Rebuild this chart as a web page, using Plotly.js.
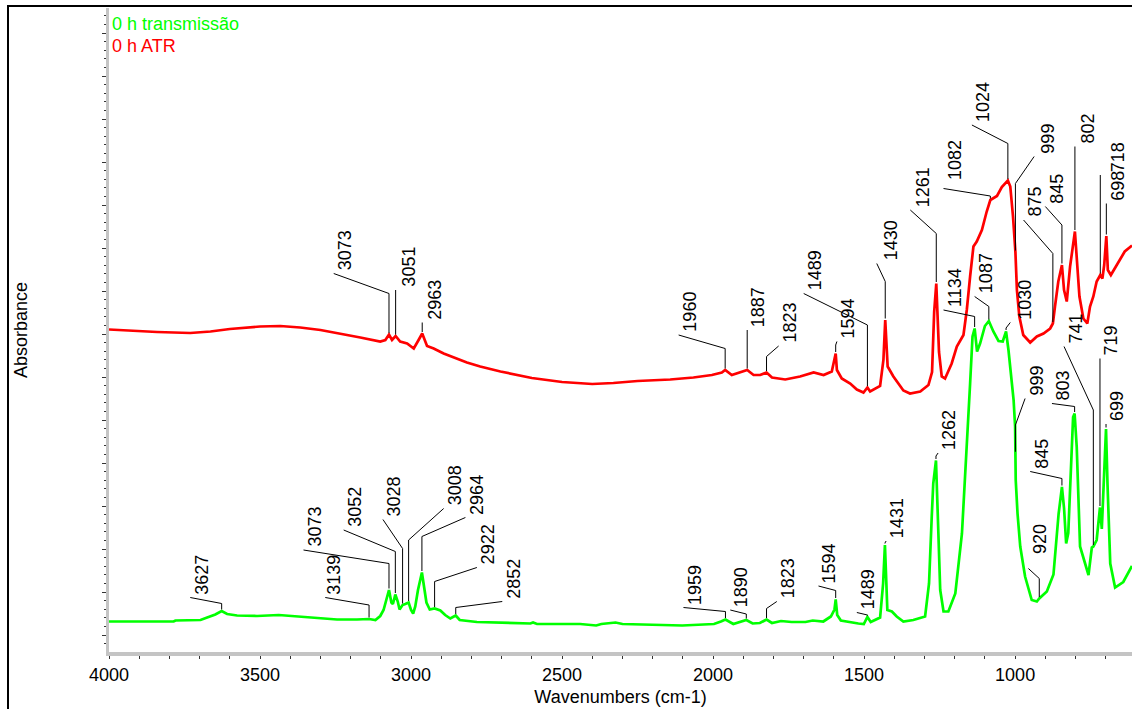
<!DOCTYPE html>
<html>
<head>
<meta charset="utf-8">
<script src="https://cdn.plot.ly/plotly-3.0.1.min.js"></script>
<style>
html,body{margin:0;padding:0;background:#fff;}
#chart{position:absolute;left:0;top:0;width:1132px;height:709px;}
#frame{position:absolute;left:7px;top:5px;width:1200px;height:800px;border-left:2px solid #000;border-top:2px solid #000;pointer-events:none;}
</style>
</head>
<body>
<div id="chart"></div>
<div id="frame"></div>
<script>
// ---------------- DATA ----------------
const seriesNames = ['0 h transmissão', '0 h ATR'];

// "0 h transmissão" spectrum (wavenumber cm-1, absorbance a.u.)
const transWavenumbers = [
  4000,3786,3780,3714,3697,3675,3648,3627,3609,3576,
  3510,3438,3366,3311,3245,3179,3139,3118,3102,3091,
  3082,3073,3065,3060,3052,3044,3038,3028,3019,3008,
  3000,2993,2986,2977,2964,2958,2949,2938,2922,2903,
  2887,2870,2852,2839,2782,2605,2596,2583,2440,2387,
  2370,2323,2300,2102,2044,1997,1974,1959,1933,1909,
  1890,1869,1845,1823,1805,1775,1740,1694,1670,1635,
  1610,1598,1594,1589,1577,1519,1501,1489,1478,1447,
  1437,1431,1427,1423,1408,1392,1370,1337,1298,1285,
  1276,1271,1262,1258,1254,1248,1237,1221,1198,1176,
  1160,1149,1141,1134,1126,1116,1100,1087,1072,1055,
  1041,1030,1022,1016,1005,1000,998,992,983,967,
  945,928,920,895,873,856,845,838,831,824,
  816,808,803,796,785,768,757,746,741,730,
  719,713,705,699,694,685,669,642,613
];
const transAbsorbance = [
  0.061,0.061,0.063,0.063,0.064,0.069,0.075,0.082,0.076,0.073,
  0.072,0.074,0.071,0.069,0.065,0.065,0.066,0.064,0.072,0.084,
  0.107,0.124,0.099,0.096,0.115,0.101,0.085,0.094,0.096,0.099,
  0.084,0.077,0.091,0.124,0.159,0.134,0.099,0.085,0.087,0.083,
  0.074,0.067,0.073,0.064,0.060,0.057,0.059,0.056,0.056,0.053,
  0.056,0.059,0.056,0.053,0.054,0.056,0.061,0.065,0.056,0.060,
  0.064,0.057,0.058,0.065,0.058,0.062,0.060,0.060,0.063,0.061,
  0.071,0.085,0.105,0.074,0.063,0.057,0.056,0.070,0.060,0.069,
  0.137,0.214,0.137,0.084,0.081,0.071,0.061,0.064,0.071,0.137,
  0.271,0.337,0.383,0.324,0.237,0.124,0.081,0.081,0.117,0.237,
  0.404,0.537,0.631,0.647,0.601,0.617,0.652,0.662,0.641,0.622,
  0.621,0.641,0.604,0.571,0.504,0.451,0.344,0.277,0.211,0.151,
  0.104,0.101,0.107,0.121,0.155,0.276,0.330,0.288,0.217,0.238,
  0.371,0.470,0.477,0.410,0.211,0.177,0.154,0.209,0.211,0.224,
  0.289,0.246,0.360,0.446,0.334,0.177,0.129,0.140,0.172
];

// "0 h ATR" spectrum
const atrWavenumbers = [
  4000,3951,3841,3731,3664,3600,3500,3433,3367,3300,
  3234,3168,3102,3085,3073,3063,3051,3036,3013,2991,
  2975,2963,2947,2925,2892,2859,2815,2771,2704,2600,
  2500,2400,2330,2250,2208,2142,2065,2004,1971,1960,
  1938,1916,1887,1866,1844,1823,1805,1761,1712,1667,
  1634,1607,1594,1590,1574,1546,1524,1502,1489,1480,
  1447,1436,1430,1422,1403,1370,1348,1314,1287,1275,
  1268,1261,1257,1252,1243,1232,1210,1193,1171,1160,
  1149,1138,1127,1110,1094,1082,1060,1044,1024,1016,
  1007,1003,999,994,986,973,950,928,906,884,
  875,868,857,845,838,829,818,802,796,787,
  774,761,752,741,730,718,711,705,698,693,
  683,664,637,613
];
const atrAbsorbance = [
  0.645,0.643,0.640,0.638,0.641,0.646,0.651,0.652,0.649,0.644,
  0.637,0.629,0.621,0.624,0.635,0.624,0.632,0.621,0.617,0.607,
  0.624,0.637,0.612,0.607,0.597,0.589,0.579,0.571,0.561,0.548,
  0.540,0.536,0.538,0.542,0.543,0.545,0.549,0.554,0.559,0.564,
  0.554,0.559,0.564,0.554,0.554,0.559,0.549,0.545,0.551,0.559,
  0.554,0.561,0.597,0.564,0.547,0.537,0.525,0.519,0.529,0.521,
  0.532,0.584,0.664,0.571,0.551,0.523,0.517,0.521,0.534,0.560,
  0.680,0.737,0.684,0.600,0.551,0.547,0.577,0.611,0.634,0.684,
  0.751,0.811,0.821,0.844,0.881,0.904,0.912,0.930,0.943,0.931,
  0.871,0.840,0.800,0.724,0.671,0.634,0.619,0.631,0.637,0.647,
  0.657,0.691,0.741,0.774,0.724,0.701,0.771,0.841,0.784,0.711,
  0.667,0.657,0.691,0.711,0.741,0.754,0.747,0.774,0.832,0.764,
  0.754,0.774,0.801,0.813
];

// Peak labels (wavenumbers, cm-1)
const transPeakLabels = ['3627','3139','3073','3052','3028','3008','2964','2922','2852',
  '1959','1890','1823','1594','1489','1431','1262','1134','1087','1030','999','920',
  '845','803','741','719','699'];
const atrPeakLabels = ['3073','3051','2963','1960','1887','1823','1594','1489','1430',
  '1261','1082','1024','999','875','845','802','718','698'];

// Axis ticks and titles
const xTickValues = [4000, 3500, 3000, 2500, 2000, 1500, 1000];
const xTickLabels = ['4000', '3500', '3000', '2500', '2000', '1500', '1000'];
const xAxisTitle = 'Wavenumbers (cm-1)';
const yAxisTitle = 'Absorbance';

// ---------------- CALLOUT LAYOUT (leader-line geometry) ----------------
// [elbow height, label foot wavenumber, label foot height, extra dx px, extra dy px]
const transCalloutLayout = [
  [0.097,3731,0.109,0,0],[0.094,3284,0.109,-3,0],[0.177,3356,0.204,0,0],
  [0.201,3223,0.244,0,0],[0.207,3093,0.265,0,0],[0.224,2892,0.287,0,0],
  [0.231,2820,0.269,0,0],[0.141,2782,0.169,0,0],[0.089,2698,0.101,0,0],
  [0.081,2098,0.089,0,0],[0.076,1943,0.084,0,0],[0.087,1789,0.101,0,0],
  [0.123,1651,0.132,0,0],[0.074,1524,0.079,0,0],[0.218,1427,0.222,0,0],
  [0.392,1255,0.398,0,0],[0.671,1237,0.684,0,0],[0.691,1134,0.711,0,0],
  [0.648,1016,0.659,3,0],[0.454,967,0.507,0,0],[0.147,956,0.167,0,12],
  [0.347,950,0.361,0,0],[0.491,878,0.497,0,0],[0.484,838,0.611,0,0],
  [0.587,719,0.587,0,0],[0.456,699,0.456,0,0]
];
const atrCalloutLayout = [
  [0.717,3256,0.757,0,0],[0.724,3051,0.724,2,0],[0.659,2963,0.659,1,0],
  [0.607,2114,0.634,0,0],[0.644,1887,0.644,0,0],[0.591,1783,0.612,0,0],
  [0.614,1590,0.621,0,0],[0.654,1700,0.717,0,0],[0.741,1458,0.777,3,0],
  [0.837,1347,0.884,2,0],[0.912,1237,0.927,0,5],[1.017,1143,1.054,0,0],
  [0.937,937,0.991,2,0],[0.797,972,0.864,0,0],[0.854,900,0.891,0,0],
  [1.011,802,1.011,2,0],[0.954,718,0.954,7,0],[0.897,698,0.897,0,0]
];

// ---------------- STYLE ----------------
const FONT = 'Liberation Sans, Arial, Helvetica, sans-serif';
const GREEN = '#00ff00';
const RED = '#ff0000';

function valueAt(wns, vals, w) {
  for (let i = 0; i < wns.length - 1; i++) {
    const a = wns[i], b = wns[i + 1];
    if ((a >= w && b <= w)) {
      if (a === b) return vals[i];
      const t = (a - w) / (a - b);
      return vals[i] + t * (vals[i + 1] - vals[i]);
    }
  }
  return vals[vals.length - 1];
}

const leaderX = [], leaderY = [];
const annotations = [];
function addCallouts(labels, layoutRows, wns, vals) {
  labels.forEach((lab, i) => {
    const wn = Number(lab);
    const [elbow, endWn, endY, dx, dy] = layoutRows[i];
    const start = valueAt(wns, vals, wn) + 0.003;
    leaderX.push(wn, wn, endWn, null);
    leaderY.push(start, Math.max(elbow, start), endY, null);
    annotations.push({
      x: endWn, y: endY, xref: 'x', yref: 'y',
      text: lab, textangle: -90, showarrow: false,
      xanchor: 'left', yanchor: 'bottom',
      xshift: -1 + dx, yshift: 1 + dy,
      font: {family: FONT, size: 18, color: '#000'}
    });
  });
}
addCallouts(transPeakLabels, transCalloutLayout, transWavenumbers, transAbsorbance);
addCallouts(atrPeakLabels, atrCalloutLayout, atrWavenumbers, atrAbsorbance);

// legend-like series names
annotations.push({
  xref: 'paper', yref: 'paper', x: 0.001, y: 0.9943, xanchor: 'left', yanchor: 'top',
  text: seriesNames[0], showarrow: false, font: {family: FONT, size: 18, color: GREEN}
});
annotations.push({
  xref: 'paper', yref: 'paper', x: 0.001, y: 0.9593, xanchor: 'left', yanchor: 'top',
  text: seriesNames[1], showarrow: false, font: {family: FONT, size: 18, color: RED}
});

const traces = [
  {x: transWavenumbers, y: transAbsorbance, name: seriesNames[0], type: 'scatter', mode: 'lines',
   line: {color: GREEN, width: 2.7}, hoverinfo: 'skip'},
  {x: atrWavenumbers, y: atrAbsorbance, name: seriesNames[1], type: 'scatter', mode: 'lines',
   line: {color: RED, width: 2.7}, hoverinfo: 'skip'},
  {x: leaderX, y: leaderY, type: 'scatter', mode: 'lines', connectgaps: false,
   line: {color: '#000', width: 1}, hoverinfo: 'skip', showlegend: false}
];

const layout = {
  width: 1132, height: 709,
  margin: {l: 109, r: 0, t: 8, b: 57, pad: 0},
  paper_bgcolor: '#fff', plot_bgcolor: '#fff',
  showlegend: false,
  font: {family: FONT, size: 18, color: '#000'},
  xaxis: {
    range: [4000, 613], autorange: false,
    tickmode: 'array', tickvals: xTickValues, ticktext: xTickLabels,
    ticks: 'outside', ticklen: 3, tickwidth: 1, tickcolor: '#333',
    minor: {tickmode: 'linear', tick0: 0, dtick: 100, ticks: 'outside', ticklen: 3, tickwidth: 1, tickcolor: '#333', showgrid: false},
    showline: true, linecolor: '#c4c4c4', linewidth: 4,
    showgrid: false, zeroline: false,
    tickfont: {family: FONT, size: 18, color: '#000'},
    title: {text: xAxisTitle, font: {family: FONT, size: 18, color: '#000'}, standoff: 8}
  },
  yaxis: {
    range: [0, 1.288], autorange: false,
    tickmode: 'linear', tick0: 0.034, dtick: 0.086,
    showticklabels: false,
    ticks: 'outside', ticklen: 4, tickwidth: 1, tickcolor: '#333',
    minor: {tickmode: 'linear', tick0: 0.034, dtick: 0.0172, ticks: 'outside', ticklen: 2, tickwidth: 1, tickcolor: '#333', showgrid: false},
    showline: true, linecolor: '#c4c4c4', linewidth: 3,
    showgrid: false, zeroline: false,
    title: {text: yAxisTitle, font: {family: FONT, size: 18, color: '#000'}, standoff: 70}
  },
  annotations: annotations
};

Plotly.newPlot('chart', traces, layout, {staticPlot: true, displayModeBar: false});
</script>
</body>
</html>
